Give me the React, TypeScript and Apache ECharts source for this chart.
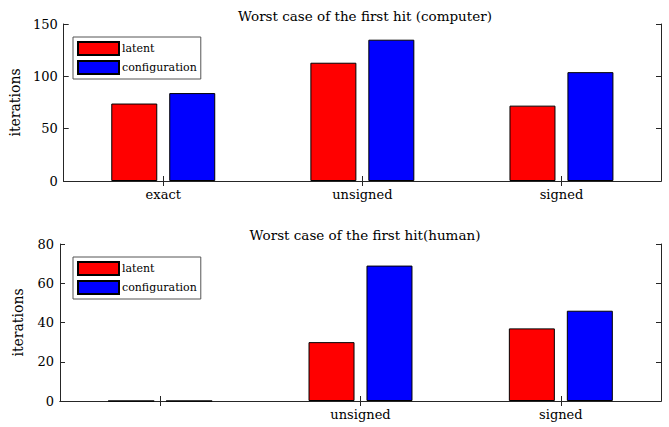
import React, { useEffect, useRef } from "react";
import * as echarts from "echarts";

const categoriesTop = ["exact", "unsigned", "signed"];
const categoriesBottom = ["", "unsigned", "signed"];
const latentComputer = [74, 113, 72];
const configComputer = [84, 135, 104];
const latentHuman = [0, 30, 37];
const configHuman = [0, 69, 46];
const seriesNames = ["latent", "configuration"];

const FONT = "DejaVu Serif";
const INK = "#262626";

function xAxes(gridIndex: number, cats: string[]) {
  const common = {
    type: "category" as const,
    gridIndex,
    data: cats,
    boundaryGap: true,
    axisLine: { show: true, lineStyle: { color: INK, width: 1 } },
    axisTick: { show: true, inside: true, alignWithLabel: true, length: 5, lineStyle: { color: INK } },
    splitLine: { show: false },
  };
  return [
    {
      ...common,
      position: "bottom" as const,
      axisLabel: { color: "#000", fontFamily: FONT, fontSize: 13, margin: 7 },
    },
    {
      ...common,
      position: "top" as const,
      axisLabel: { show: false },
    },
  ];
}

function yAxes(gridIndex: number, max: number, interval: number) {
  const common = {
    type: "value" as const,
    gridIndex,
    min: 0,
    max,
    interval,
    axisLine: { show: true, lineStyle: { color: INK, width: 1 } },
    axisTick: { show: true, inside: true, length: 5, lineStyle: { color: INK } },
    splitLine: { show: false },
  };
  return [
    {
      ...common,
      position: "left" as const,
      name: "iterations",
      nameLocation: "middle" as const,
      nameGap: 35,
      nameTextStyle: { color: "#000", fontFamily: FONT, fontSize: 14 },
      axisLabel: { color: "#000", fontFamily: FONT, fontSize: 13, margin: 6 },
    },
    {
      ...common,
      position: "right" as const,
      axisLabel: { show: false },
    },
  ];
}

function bars(name: string, data: number[], color: string, axisIndex: number) {
  return {
    type: "bar" as const,
    name,
    data,
    xAxisIndex: axisIndex,
    yAxisIndex: axisIndex,
    barWidth: 46,
    barGap: "26%",
    itemStyle: { color, borderColor: "#000", borderWidth: 1 },
  };
}

function legendAt(top: number) {
  return {
    data: seriesNames,
    orient: "vertical" as const,
    left: 73,
    top,
    itemWidth: 41,
    itemHeight: 13,
    itemGap: 4,
    padding: [4, 4, 4, 4],
    borderColor: "#555",
    borderWidth: 1,
    backgroundColor: "#fff",
    icon: "rect",
    selectedMode: false,
    textStyle: { color: "#000", fontFamily: FONT, fontSize: 11, padding: [0, 0, 0, -2] },
  };
}

export default function App() {
  const ref = useRef<HTMLDivElement>(null);

  useEffect(() => {
    if (!ref.current) return;
    const chart = echarts.init(ref.current, undefined, { renderer: "svg" });
    chart.setOption({
      animation: false,
      backgroundColor: "#fff",
      textStyle: { fontFamily: FONT },
      title: [
        {
          text: "Worst case of the first hit (computer)",
          left: 360,
          top: 4,
          textAlign: "center",
          textStyle: { color: "#000", fontFamily: FONT, fontSize: 13.5, fontWeight: "normal" },
        },
        {
          text: "Worst case of the first hit(human)",
          left: 360,
          top: 223,
          textAlign: "center",
          textStyle: { color: "#000", fontFamily: FONT, fontSize: 13.5, fontWeight: "normal" },
        },
      ],
      legend: [legendAt(37), legendAt(257)],
      grid: [
        { left: 60, top: 24, width: 601, height: 157 },
        { left: 60, top: 244, width: 601, height: 157 },
      ],
      xAxis: [...xAxes(0, categoriesTop), ...xAxes(1, categoriesBottom)],
      yAxis: [...yAxes(0, 150, 50), ...yAxes(1, 80, 20)],
      series: [
        bars(seriesNames[0], latentComputer, "#ff0000", 0),
        bars(seriesNames[1], configComputer, "#0000ff", 0),
        bars(seriesNames[0], latentHuman, "#ff0000", 2),
        bars(seriesNames[1], configHuman, "#0000ff", 2),
      ],
    });
    return () => chart.dispose();
  }, []);

  return <div ref={ref} style={{ width: 669, height: 427, position: "absolute", left: 0, top: 0 }} />;
}
